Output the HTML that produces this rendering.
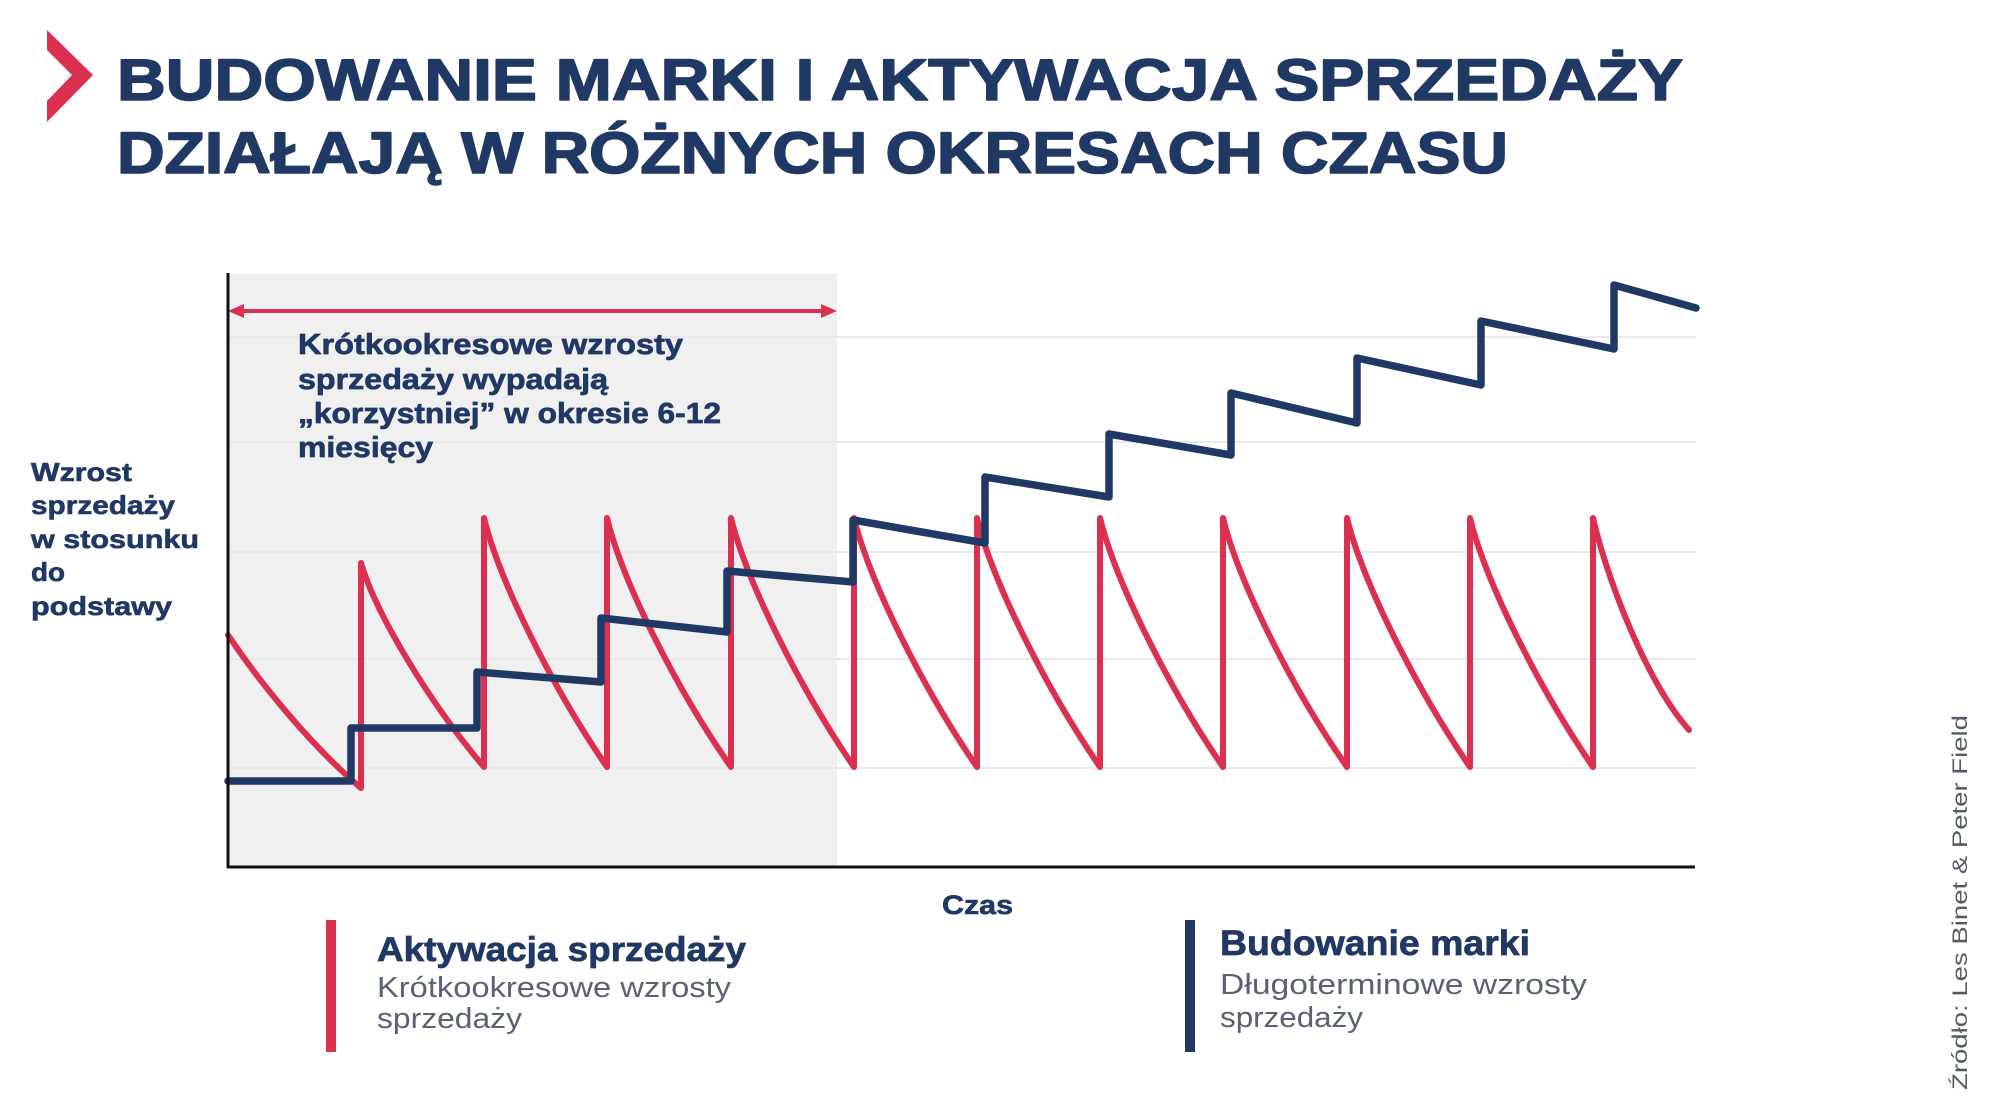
<!DOCTYPE html>
<html>
<head>
<meta charset="utf-8">
<style>
  html,body{margin:0;padding:0;background:#ffffff;}
  body{width:1992px;height:1112px;overflow:hidden;}
  svg{display:block;}
  text{font-family:"Liberation Sans","DejaVu Sans",sans-serif;}
</style>
</head>
<body>
<svg width="1992" height="1112" viewBox="0 0 1992 1112" xmlns="http://www.w3.org/2000/svg">
  <rect x="0" y="0" width="1992" height="1112" fill="#ffffff"/>

  <!-- chevron -->
  <polygon points="47,30 93,75 47,122 47,101 72,75 47,50" fill="#dc3050"/>

  <!-- title -->
  <g font-size="58" font-weight="700" fill="#203864" stroke="#203864" stroke-width="1.6" stroke-linejoin="round">
    <text x="117" y="100" textLength="1566" lengthAdjust="spacingAndGlyphs">BUDOWANIE MARKI I AKTYWACJA SPRZEDAŻY</text>
    <text x="117" y="173" textLength="1391" lengthAdjust="spacingAndGlyphs">DZIAŁAJĄ W RÓŻNYCH OKRESACH CZASU</text>
  </g>

  <!-- shaded region -->
  <rect x="228" y="274" width="609" height="593" fill="#f0f0f0"/>

  <!-- gridlines -->
  <g stroke="#e9e9e9" stroke-width="2">
    <line x1="228" y1="337" x2="1696" y2="337"/>
    <line x1="228" y1="442" x2="1696" y2="442"/>
    <line x1="228" y1="552" x2="1696" y2="552"/>
    <line x1="228" y1="659" x2="1696" y2="659"/>
    <line x1="228" y1="768" x2="1696" y2="768"/>
  </g>

  <!-- double arrow -->
  <line x1="236" y1="311" x2="829" y2="311" stroke="#dc3050" stroke-width="4"/>
  <polygon points="228,311 244,304 244,318" fill="#dc3050"/>
  <polygon points="837,311 821,304 821,318" fill="#dc3050"/>

  <!-- annotation -->
  <g font-size="29" font-weight="700" fill="#203864" stroke="#203864" stroke-width="0.7" stroke-linejoin="round">
    <text x="298" y="354" textLength="385" lengthAdjust="spacingAndGlyphs">Krótkookresowe wzrosty</text>
    <text x="298" y="389" textLength="310" lengthAdjust="spacingAndGlyphs">sprzedaży wypadają</text>
    <text x="298" y="423" textLength="423" lengthAdjust="spacingAndGlyphs">„korzystniej” w okresie 6-12</text>
    <text x="298" y="457" textLength="135" lengthAdjust="spacingAndGlyphs">miesięcy</text>
  </g>

  <!-- red series -->
  <path fill="none" stroke="#dc3050" stroke-width="6" stroke-linejoin="round" stroke-linecap="round"
    d="M228,635 C258,680 310,745 361,788 V563
       C376,614 429,702 484,767 V518
       C499,580 552,687 607,767 V518
       C622,580 675,687 731,767 V518
       C746,580 799,687 854,767 V518
       C869,580 922,687 977,767 V518
       C992,580 1045,687 1100,767 V518
       C1115,580 1168,687 1223,767 V518
       C1238,580 1291,687 1347,767 V518
       C1362,580 1415,687 1470,767 V518
       C1485,580 1538,687 1593,767 V518
       C1606,575 1645,680 1689,730"/>

  <!-- navy series -->
  <path fill="none" stroke="#203864" stroke-width="7.5" stroke-linejoin="round" stroke-linecap="round"
    d="M228,781 H351 V728 H477 V672 L601,682 V618 L727,632 V571 L853,582 V520 L985,543 V477 L1109,497 V434 L1231,455 V393 L1357,423 V358 L1481,385 V321 L1614,349 V285 L1696,308"/>

  <!-- axes -->
  <line x1="228" y1="273" x2="228" y2="868" stroke="#111111" stroke-width="3"/>
  <line x1="227" y1="867" x2="1695" y2="867" stroke="#111111" stroke-width="3"/>

  <!-- y label -->
  <g font-size="26" font-weight="700" fill="#203864" stroke="#203864" stroke-width="0.6" stroke-linejoin="round">
    <text x="31" y="481" textLength="101" lengthAdjust="spacingAndGlyphs">Wzrost</text>
    <text x="31" y="514" textLength="144" lengthAdjust="spacingAndGlyphs">sprzedaży</text>
    <text x="31" y="548" textLength="168" lengthAdjust="spacingAndGlyphs">w stosunku</text>
    <text x="31" y="581" textLength="34" lengthAdjust="spacingAndGlyphs">do</text>
    <text x="31" y="615" textLength="141" lengthAdjust="spacingAndGlyphs">podstawy</text>
  </g>

  <!-- x label -->
  <text x="942" y="914" font-size="27" font-weight="700" fill="#203864" stroke="#203864" stroke-width="0.6" textLength="71" lengthAdjust="spacingAndGlyphs">Czas</text>

  <!-- legend: activation -->
  <rect x="326" y="920" width="10" height="132" fill="#dc3050"/>
  <text x="377" y="961" font-size="34" font-weight="700" fill="#203864" stroke="#203864" stroke-width="0.7" textLength="369" lengthAdjust="spacingAndGlyphs">Aktywacja sprzedaży</text>
  <text x="377" y="997" font-size="29" font-weight="400" fill="#5a6174" textLength="354" lengthAdjust="spacingAndGlyphs">Krótkookresowe wzrosty</text>
  <text x="377" y="1028" font-size="29" font-weight="400" fill="#5a6174" textLength="145" lengthAdjust="spacingAndGlyphs">sprzedaży</text>

  <!-- legend: brand -->
  <rect x="1185" y="920" width="10" height="132" fill="#203864"/>
  <text x="1220" y="955" font-size="35" font-weight="700" fill="#203864" stroke="#203864" stroke-width="0.7" textLength="310" lengthAdjust="spacingAndGlyphs">Budowanie marki</text>
  <text x="1220" y="994" font-size="29" font-weight="400" fill="#5a6174" textLength="367" lengthAdjust="spacingAndGlyphs">Długoterminowe wzrosty</text>
  <text x="1220" y="1027" font-size="29" font-weight="400" fill="#5a6174" textLength="143" lengthAdjust="spacingAndGlyphs">sprzedaży</text>

  <!-- source -->
  <text transform="translate(1967,1090) rotate(-90)" x="0" y="0" font-size="21" fill="#555b66" textLength="375" lengthAdjust="spacingAndGlyphs">Źródło: Les Binet &amp; Peter Field</text>
</svg>
</body>
</html>
